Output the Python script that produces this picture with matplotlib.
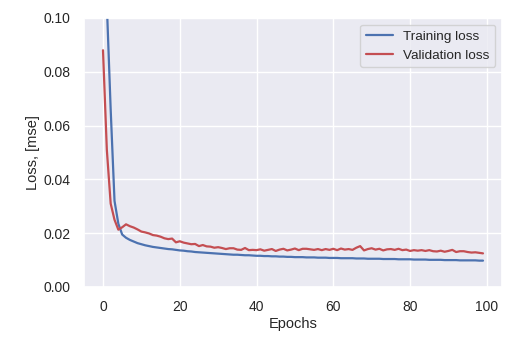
import matplotlib
matplotlib.use("Agg")
import matplotlib.pyplot as plt
import seaborn as sns
import numpy as np

epochs = list(range(100))
train_loss = [0.35, 0.105, 0.066, 0.032, 0.0235, 0.0195, 0.0183, 0.0175, 0.0169, 0.0163,
              0.0159, 0.0155, 0.0152, 0.0149, 0.0147, 0.0145, 0.0143, 0.0141, 0.0140, 0.0138,
              0.0136, 0.0135, 0.0133, 0.0132, 0.0130, 0.0129, 0.0128, 0.0127, 0.0126, 0.0125,
              0.0124, 0.0123, 0.0122, 0.0121, 0.0120, 0.0120, 0.0119, 0.0118, 0.0118, 0.0117,
              0.0116, 0.0116, 0.0115, 0.0115, 0.0114, 0.0114, 0.0113, 0.0113, 0.0112, 0.0112,
              0.0111, 0.0111, 0.0111, 0.0110, 0.0110, 0.0110, 0.0109, 0.0109, 0.0109, 0.0108,
              0.0108, 0.0108, 0.0107, 0.0107, 0.0107, 0.0107, 0.0106, 0.0106, 0.0106, 0.0105,
              0.0105, 0.0105, 0.0105, 0.0104, 0.0104, 0.0104, 0.0104, 0.0103, 0.0103, 0.0103,
              0.0103, 0.0102, 0.0102, 0.0102, 0.0102, 0.0101, 0.0101, 0.0101, 0.0101, 0.0100,
              0.0100, 0.0100, 0.0100, 0.0099, 0.0099, 0.0099, 0.0099, 0.0099, 0.0098, 0.0098]
val_loss = [0.088, 0.051, 0.031, 0.025, 0.0213, 0.0222, 0.0233, 0.0226, 0.0221, 0.0214,
            0.0206, 0.0203, 0.0199, 0.0193, 0.0191, 0.0187, 0.0181, 0.0178, 0.0180, 0.0166,
            0.0170, 0.0165, 0.0162, 0.0159, 0.0160, 0.0152, 0.0156, 0.0151, 0.0150, 0.0146,
            0.0148, 0.0145, 0.0141, 0.0144, 0.0144, 0.0139, 0.0138, 0.0145, 0.0137, 0.0138,
            0.0137, 0.0140, 0.0135, 0.0138, 0.0141, 0.0134, 0.0139, 0.0142, 0.0136, 0.0139,
            0.0143, 0.0137, 0.0142, 0.0142, 0.0140, 0.0138, 0.0141, 0.0137, 0.0141, 0.0138,
            0.0142, 0.0137, 0.0143, 0.0139, 0.0141, 0.0138, 0.0146, 0.0152, 0.0136, 0.0141,
            0.0144, 0.0139, 0.0142, 0.0136, 0.0140, 0.0141, 0.0138, 0.0142, 0.0137, 0.0139,
            0.0134, 0.0137, 0.0135, 0.0137, 0.0134, 0.0137, 0.0133, 0.0132, 0.0135, 0.0131,
            0.0134, 0.0138, 0.0130, 0.0133, 0.0133, 0.0130, 0.0128, 0.0129, 0.0127, 0.0125]

sns.set_theme(style="darkgrid")
plt.rcParams['font.family'] = ['Liberation Sans', 'DejaVu Sans']

fig = plt.figure(figsize=(5.24, 3.39), dpi=100)
ax = fig.add_axes([0.1603, 0.1534, 0.7977, 0.7936])
ax.plot(epochs, train_loss, color="#4C72B0", lw=1.6, label="Training loss")
ax.plot(epochs, val_loss, color="#C44E52", lw=1.6, label="Validation loss")
ax.set_ylim(0, 0.1)
ax.set_xticks([0, 20, 40, 60, 80, 100])
ax.set_yticks([0.0, 0.02, 0.04, 0.06, 0.08, 0.10])
ax.set_yticklabels(["0.00", "0.02", "0.04", "0.06", "0.08", "0.10"])
ax.tick_params(labelsize=10, colors="#262626")
ax.set_xlabel("Epochs", fontsize=10.5, color="#262626", labelpad=2)
ax.set_ylabel("Loss, [mse]", fontsize=10.5, color="#262626", labelpad=3)
ax.legend(loc="upper right", fontsize=9.7)
fig.savefig("out.png", dpi=100)
